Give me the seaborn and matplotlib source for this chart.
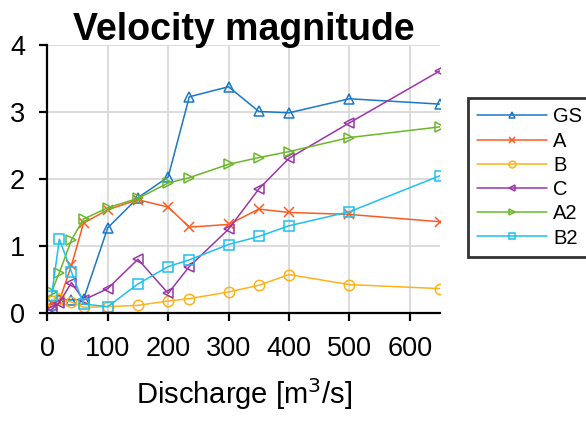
import matplotlib
matplotlib.use("Agg")
import matplotlib.pyplot as plt
import seaborn as sns
import pandas as pd

# Discharge values (m^3/s) and velocity magnitudes for each configuration
discharge = [7, 20, 40, 60, 100, 150, 200, 235, 300, 350, 400, 500, 650]
vel_gs = [0.12, 0.20, 0.19, 0.20, 1.27, 1.72, 2.03, 3.23, 3.38, 3.01, 2.99, 3.20, 3.12]
vel_a = [0.15, 0.18, 0.71, 1.34, 1.54, 1.69, 1.58, 1.28, 1.32, 1.55, 1.50, 1.47, 1.36]
vel_b = [0.18, 0.20, 0.16, 0.08, 0.09, 0.11, 0.175, 0.21, 0.31, 0.41, 0.57, 0.42, 0.36]
vel_c = [0.05, 0.15, 0.45, 0.19, 0.36, 0.80, 0.29, 0.69, 1.25, 1.85, 2.31, 2.84, 3.62]
vel_a2 = [0.31, 0.60, 1.09, 1.40, 1.57, 1.71, 1.94, 2.02, 2.22, 2.32, 2.41, 2.62, 2.78]
vel_b2 = [0.25, 1.10, 0.61, 0.13, 0.09, 0.43, 0.69, 0.79, 1.02, 1.14, 1.30, 1.51, 2.05]

series_names = ["GS", "A", "B", "C", "A2", "B2"]
series_values = [vel_gs, vel_a, vel_b, vel_c, vel_a2, vel_b2]
colors = ["#1a78c8", "#ff5a1f", "#ffb21a", "#9b35a8", "#6ab82a", "#1ec0ee"]
markers = ["^", "x", "o", "<", ">", "s"]

sns.set_theme(style="white")
plt.rcParams["font.family"] = ["Liberation Sans", "DejaVu Sans"]
plt.rcParams["text.color"] = "black"
plt.rcParams["axes.labelcolor"] = "black"
plt.rcParams["xtick.color"] = "black"
plt.rcParams["ytick.color"] = "black"

fig = plt.figure(figsize=(5.86, 4.23), dpi=100)
ax = fig.add_axes([0.0807, 0.2608, 0.6703, 0.6321])

for name, vals, col, mk in zip(series_names, series_values, colors, markers):
    df = pd.DataFrame({"Q": discharge, "V": vals})
    sns.lineplot(data=df, x="Q", y="V", ax=ax, color=col, marker=mk,
                 markersize=7.5, markerfacecolor="none", markeredgecolor=col,
                 markeredgewidth=1.1, linewidth=1.1, label=name)

ax.set_xlim(0, 650)
ax.set_ylim(0, 4)
ax.set_xticks([0, 100, 200, 300, 400, 500, 600])
ax.set_yticks([0, 1, 2, 3, 4])
ax.grid(True, color="#d6d6d6", linewidth=1.2)
ax.set_axisbelow(True)
for side in ["top", "right"]:
    ax.spines[side].set_visible(False)
for side in ["left", "bottom"]:
    ax.spines[side].set_color("black")
    ax.spines[side].set_linewidth(1.6)
ax.tick_params(axis="both", direction="out", length=6, width=1.6,
               color="black", labelsize=19.5, left=True, bottom=True)
ax.tick_params(axis="x", pad=11)
ax.tick_params(axis="y", pad=10)
ax.set_xlabel("Discharge [m$^3$/s]", fontsize=21, labelpad=10)
ax.set_ylabel("")
ax.set_title("Velocity magnitude", fontsize=27, fontweight="bold", pad=4)

leg = ax.legend(loc="upper left", bbox_to_anchor=(0.798, 0.7676),
                bbox_transform=fig.transFigure, borderaxespad=0, fontsize=14.5,
                frameon=True, fancybox=False, handlelength=3.5, markerscale=0.65,
                borderpad=0.45, labelspacing=0.26, handletextpad=0.3)
leg.get_frame().set_edgecolor("black")
leg.get_frame().set_linewidth(2.0)

fig.savefig("out.png", dpi=100)
